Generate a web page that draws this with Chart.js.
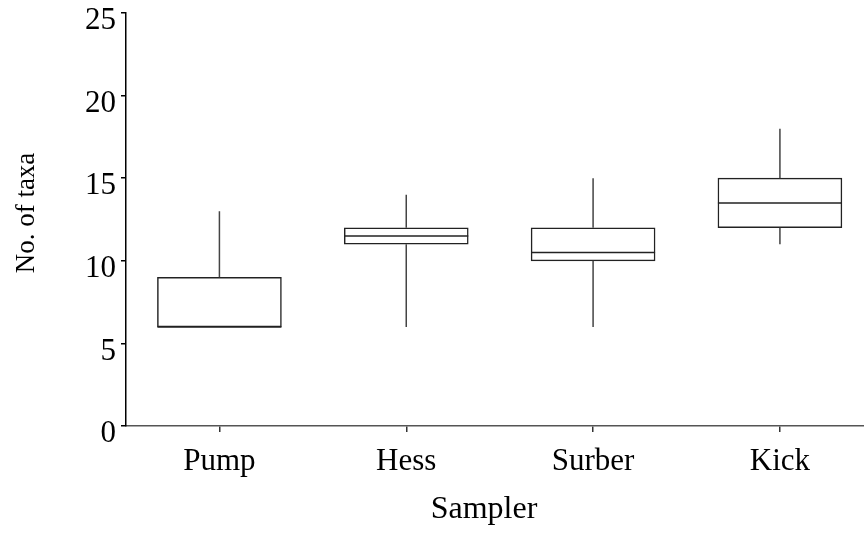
<!DOCTYPE html>
<html>
<head>
<meta charset="utf-8">
<script src="https://cdn.jsdelivr.net/npm/chart.js@4"></script>
<style>
  html, body { margin: 0; padding: 0; background: #fff; overflow: hidden; }
  #wrap { width: 864px; height: 536px; }
</style>
</head>
<body>
<div id="wrap"><canvas id="myChart" width="864" height="536"></canvas></div>
<script>
'use strict';

// 箱ひげ図のデータ
var categories = ["Pump", "Hess", "Surber", "Kick"];
var mins    = [6, 6, 6, 11];
var q1s     = [6, 11, 10, 12];
var medians = [6, 11.5, 10.5, 13.5];
var q3s     = [9, 12, 12, 15];
var maxs    = [13, 14, 15, 18];
var yTicks  = [0, 5, 10, 15, 20, 25];

var serif = 'Liberation Serif';
var boxWidth = 124;

// whiskers + median lines
var whiskerPlugin = {
  id: 'whiskers',
  afterDatasetsDraw: function (chart) {
    var ctx = chart.ctx;
    var xs = chart.scales.x;
    var ys = chart.scales.y;
    ctx.save();
    ctx.lineWidth = 1.5;
    categories.forEach(function (c, i) {
      var x = xs.getPixelForValue(i);
      ctx.strokeStyle = '#444';
      ctx.beginPath();
      ctx.moveTo(x, ys.getPixelForValue(mins[i]));
      ctx.lineTo(x, ys.getPixelForValue(q1s[i]));
      ctx.moveTo(x, ys.getPixelForValue(q3s[i]));
      ctx.lineTo(x, ys.getPixelForValue(maxs[i]));
      ctx.stroke();
      var ym = ys.getPixelForValue(medians[i]);
      ctx.strokeStyle = '#222';
      ctx.beginPath();
      ctx.moveTo(x - boxWidth / 2, ym);
      ctx.lineTo(x + boxWidth / 2, ym);
      ctx.stroke();
    });
    ctx.restore();
  }
};

// axis titles
var titlePlugin = {
  id: 'titles',
  afterDraw: function (chart) {
    var ctx = chart.ctx;
    var area = chart.chartArea;
    ctx.save();
    ctx.fillStyle = '#000';
    ctx.textAlign = 'center';
    ctx.textBaseline = 'middle';
    ctx.font = '32px "' + serif + '"';
    ctx.fillText('Sampler', area.left + 358, 510);
    ctx.translate(27, 213);
    ctx.rotate(-Math.PI / 2);
    ctx.font = '27px "' + serif + '"';
    ctx.fillText('No. of taxa', 0, 0);
    ctx.restore();
  }
};

var ctx = document.getElementById('myChart');
var myChart = new Chart(ctx, {
  type: 'bar',
  data: {
    datasets: [{
      data: categories.map(function (c, i) { return { x: i, y: [q1s[i], q3s[i]] }; }),
      backgroundColor: '#fff',
      borderColor: '#222',
      borderWidth: 1.5,
      borderSkipped: false,
      barThickness: boxWidth
    }]
  },
  plugins: [whiskerPlugin, titlePlugin],
  options: {
    responsive: false,
    animation: false,
    layout: { padding: { top: 13, right: 0, left: 0, bottom: 0 } },
    plugins: { legend: { display: false }, tooltip: { enabled: false } },
    scales: {
      x: {
        type: 'linear',
        min: -0.5,
        max: 3.45,
        offset: false,
        afterBuildTicks: function (scale) {
          scale.ticks = categories.map(function (c, i) { return { value: i }; });
        },
        afterFit: function (scale) {
          scale.height = 110;
          scale.paddingLeft = 0;
          scale.paddingRight = 0;
        },
        ticks: {
          color: '#000',
          font: { family: serif, size: 31 },
          padding: 11,
          maxRotation: 0,
          callback: function (v) { return categories[v]; }
        },
        grid: { offset: false, drawOnChartArea: false, drawTicks: true, tickLength: 6, color: '#333', lineWidth: 1.5 },
        border: { color: '#555', width: 1.5 }
      },
      y: {
        min: 0,
        max: 25,
        afterBuildTicks: function (scale) {
          scale.ticks = yTicks.map(function (v) { return { value: v }; });
        },
        afterFit: function (scale) {
          scale.width = 126;
          scale.paddingTop = 0;
          scale.paddingBottom = 0;
        },
        ticks: {
          color: '#000',
          font: { family: serif, size: 31 },
          padding: 5,
          labelOffset: 8
        },
        grid: { drawOnChartArea: false, drawTicks: true, tickLength: 5, color: '#000', lineWidth: 1.5 },
        border: { color: '#000', width: 1.5 }
      }
    }
  }
});
</script>
</body>
</html>
